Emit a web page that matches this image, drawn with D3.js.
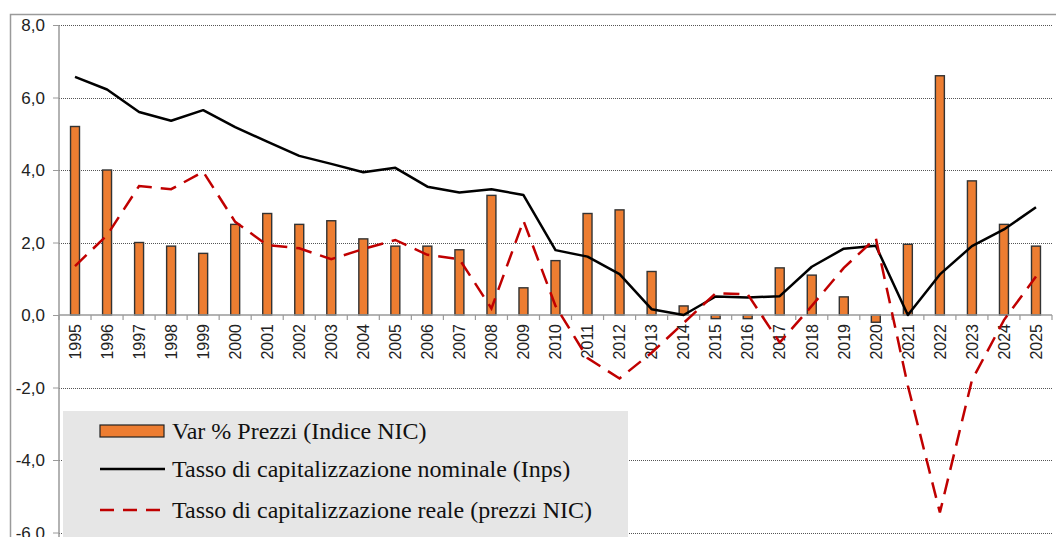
<!DOCTYPE html>
<html>
<head>
<meta charset="utf-8">
<script src="https://cdn.jsdelivr.net/npm/d3@7"></script>
<style>
  body { margin: 0; background: #fff; }
  svg { display: block; }
  .tick-label { font-family: "Liberation Sans Narrow", "Arial Narrow", "Liberation Sans", Arial, sans-serif; fill: #222; }
  .legend-text { font-family: "Liberation Serif", "Times New Roman", serif; font-size: 24px; fill: #111; }
</style>
</head>
<body>
<svg id="chart" width="1056" height="537"></svg>
<script>
// ----------

const YEARS = ["1995", "1996", "1997", "1998", "1999", "2000", "2001", "2002", "2003", "2004",
  "2005", "2006", "2007", "2008", "2009", "2010", "2011", "2012", "2013", "2014",
  "2015", "2016", "2017", "2018", "2019", "2020", "2021", "2022", "2023", "2024", "2025"];

// Var % Prezzi (Indice NIC)
const PREZZI_NIC = [5.2, 4.0, 2.0, 1.9, 1.7, 2.5, 2.8, 2.5, 2.6, 2.1,
  1.9, 1.9, 1.8, 3.3, 0.75, 1.5, 2.8, 2.9, 1.2, 0.25,
  -0.1, -0.1, 1.3, 1.1, 0.5, -0.2, 1.95, 6.6, 3.7, 2.5, 1.9];

// Tasso di capitalizzazione nominale (Inps)
const TASSO_NOMINALE = [6.57, 6.22, 5.6, 5.36, 5.65, 5.18, 4.78, 4.39, 4.17, 3.94,
  4.06, 3.54, 3.38, 3.47, 3.31, 1.79, 1.61, 1.13, 0.16, 0.0,
  0.51, 0.48, 0.52, 1.33, 1.83, 1.91, 0.0, 1.12, 1.9, 2.36, 2.97];

// Tasso di capitalizzazione reale (prezzi NIC)
const TASSO_REALE = [1.35, 2.2, 3.56, 3.47, 3.95, 2.57, 1.93, 1.84, 1.54, 1.82,
  2.07, 1.66, 1.54, 0.18, 2.6, 0.25, -1.19, -1.75, -1.04, -0.22,
  0.6, 0.57, -0.76, 0.25, 1.3, 2.12, -1.95, -5.45, -1.8, -0.14, 1.06];

const Y_TICKS = [-6, -4, -2, 0, 2, 4, 6, 8];

const LEGEND_LABELS = [
  "Var % Prezzi (Indice NIC)",
  "Tasso di capitalizzazione nominale (Inps)",
  "Tasso di capitalizzazione reale (prezzi NIC)"
];

const BAR_COLOR = "#ED7D31";
const BAR_STROKE = "#333333";
const NOMINAL_COLOR = "#000000";
const REAL_COLOR = "#C00000";
const AXIS_COLOR = "#9a9a9a";
const GRID_COLOR = "#555555";

// ----------

function formatTick(v) {
  return d3.format(".1f")(v).replace(".", ",").replace("−", "-");
}

function drawChart() {
  let svg = d3.select("#chart"),
    left = 59,
    right = 1052,
    top = 25,
    bottom = 532.5;

  // outer chart frame
  svg.append("rect")
    .attr("x", 10.5).attr("y", 14.5)
    .attr("width", 1100).attr("height", 600)
    .attr("fill", "none")
    .attr("stroke", AXIS_COLOR)
    .attr("stroke-width", 1.5);

  let x = d3.scaleBand().domain(YEARS).range([left, right]).padding(0);
  let y = d3.scaleLinear().domain([-6, 8]).range([bottom, top]);
  let barWidth = x.bandwidth() * 0.28;

  // dotted gridlines
  svg.append("g")
    .selectAll("line")
    .data(Y_TICKS.filter(function (d) { return d !== 0; }))
    .enter()
    .append("line")
    .attr("x1", left).attr("x2", right)
    .attr("y1", function (d) { return Math.round(y(d)) + 0.5; })
    .attr("y2", function (d) { return Math.round(y(d)) + 0.5; })
    .attr("stroke", GRID_COLOR)
    .attr("stroke-width", 1)
    .attr("stroke-dasharray", "1,1");

  // y axis
  let yAxis = svg.append("g")
    .attr("transform", "translate(" + left + ",0)")
    .call(d3.axisLeft(y).tickValues(Y_TICKS).tickFormat(formatTick).tickSize(6).tickPadding(8));
  yAxis.select(".domain").attr("stroke", AXIS_COLOR).attr("stroke-width", 1.5)
    .attr("d", "M0," + top + "V537");
  yAxis.selectAll(".tick line").attr("stroke", AXIS_COLOR);
  yAxis.selectAll(".tick text")
    .attr("class", "tick-label")
    .style("font-size", "17px")
    .attr("dy", "0.35em");

  // bars
  svg.append("g")
    .selectAll("rect")
    .data(YEARS)
    .enter()
    .append("rect")
    .attr("x", function (d) { return x(d) + x.bandwidth() / 2 - barWidth / 2; })
    .attr("y", function (d, i) { return y(Math.max(0, PREZZI_NIC[i])); })
    .attr("width", barWidth)
    .attr("height", function (d, i) { return Math.abs(y(PREZZI_NIC[i]) - y(0)); })
    .attr("fill", BAR_COLOR)
    .attr("stroke", BAR_STROKE)
    .attr("stroke-width", 1.4);

  // zero axis with category ticks
  let zeroY = y(0);
  svg.append("line")
    .attr("x1", left).attr("x2", right)
    .attr("y1", zeroY).attr("y2", zeroY)
    .attr("stroke", AXIS_COLOR)
    .attr("stroke-width", 1.5);
  svg.append("g")
    .selectAll("line")
    .data(YEARS.concat(["end"]))
    .enter()
    .append("line")
    .attr("x1", function (d) { return d === "end" ? right : x(d); })
    .attr("x2", function (d) { return d === "end" ? right : x(d); })
    .attr("y1", zeroY).attr("y2", zeroY + 5)
    .attr("stroke", AXIS_COLOR)
    .attr("stroke-width", 1.2);

  // year labels
  let xAxis = svg.append("g")
    .attr("transform", "translate(0," + zeroY + ")")
    .call(d3.axisBottom(x).tickSize(0));
  xAxis.select(".domain").remove();
  xAxis.selectAll(".tick text")
    .attr("class", "tick-label")
    .style("font-size", "16px")
    .attr("text-anchor", "end")
    .attr("transform", "rotate(-90)")
    .attr("x", -9)
    .attr("y", 0)
    .attr("dy", "0.36em");

  // lines
  let lineGen = function (values) {
    return d3.line()
      .x(function (d, i) { return x(YEARS[i]) + x.bandwidth() / 2; })
      .y(function (d) { return y(d); })(values);
  };

  svg.append("path")
    .attr("d", lineGen(TASSO_NOMINALE))
    .attr("fill", "none")
    .attr("stroke", NOMINAL_COLOR)
    .attr("stroke-width", 2.5)
    .attr("stroke-linejoin", "round");

  svg.append("path")
    .attr("d", lineGen(TASSO_REALE))
    .attr("fill", "none")
    .attr("stroke", REAL_COLOR)
    .attr("stroke-width", 2.5)
    .attr("stroke-dasharray", "16,9");

  // legend
  let legend = svg.append("g").attr("transform", "translate(63,411)");
  legend.append("rect")
    .attr("width", 565).attr("height", 130)
    .attr("fill", "#e6e6e6");

  let rowY = [20, 58, 99];
  legend.append("rect")
    .attr("x", 37).attr("y", rowY[0] - 6)
    .attr("width", 64).attr("height", 12)
    .attr("fill", BAR_COLOR).attr("stroke", "#222").attr("stroke-width", 1.2);
  legend.append("line")
    .attr("x1", 37).attr("x2", 102).attr("y1", rowY[1]).attr("y2", rowY[1])
    .attr("stroke", NOMINAL_COLOR).attr("stroke-width", 2.5);
  legend.append("line")
    .attr("x1", 37).attr("x2", 102).attr("y1", rowY[2]).attr("y2", rowY[2])
    .attr("stroke", REAL_COLOR).attr("stroke-width", 2.5)
    .attr("stroke-dasharray", "14,9");

  legend.selectAll("text.legend-text")
    .data(LEGEND_LABELS)
    .enter()
    .append("text")
    .attr("class", "legend-text")
    .attr("x", 109)
    .attr("y", function (d, i) { return rowY[i]; })
    .attr("dy", "0.35em")
    .text(function (d) { return d; });
}

drawChart();
</script>
</body>
</html>
